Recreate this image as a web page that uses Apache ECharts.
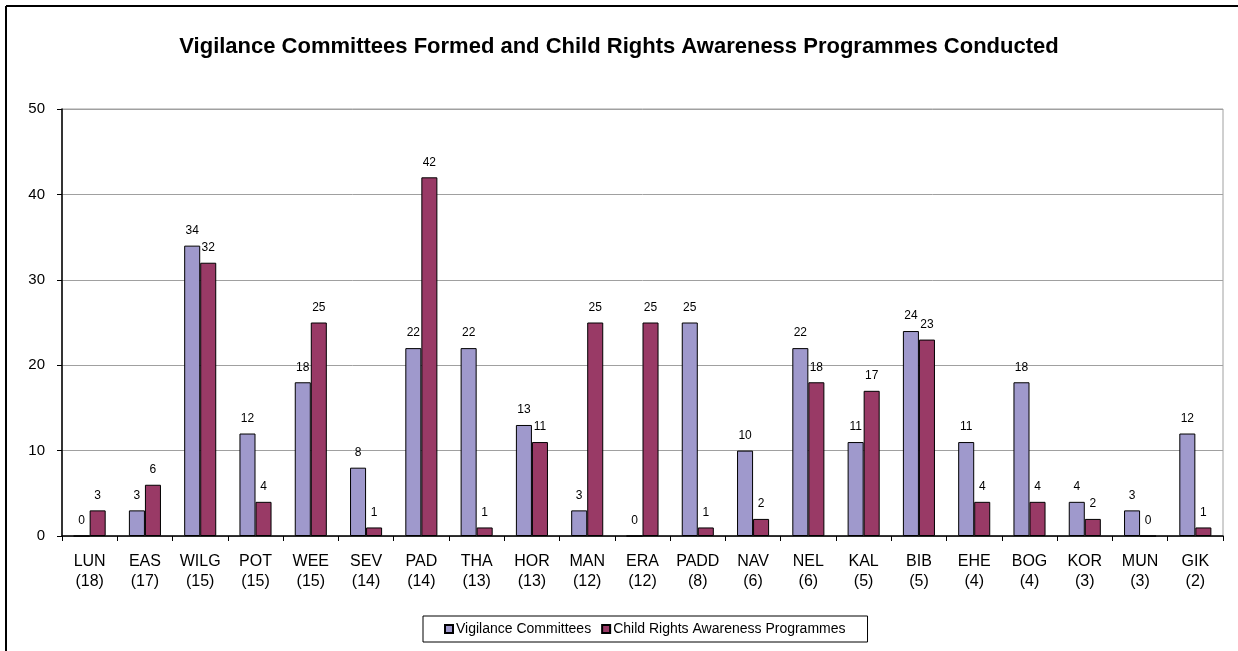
<!DOCTYPE html>
<html>
<head>
<meta charset="utf-8">
<script src="https://cdn.jsdelivr.net/npm/echarts@6/dist/echarts.min.js"></script>
<style>
  html, body { margin: 0; padding: 0; background: #fff; }
  #chart { width: 1238px; height: 651px; }
</style>
</head>
<body>
<div id="chart"></div>
<script>
  // districts and the number in brackets under each
  var districts = ['LUN', 'EAS', 'WILG', 'POT', 'WEE', 'SEV', 'PAD', 'THA', 'HOR', 'MAN', 'ERA',
                   'PADD', 'NAV', 'NEL', 'KAL', 'BIB', 'EHE', 'BOG', 'KOR', 'MUN', 'GIK'];
  var counts = [18, 17, 15, 15, 15, 14, 14, 13, 13, 12, 12, 8, 6, 6, 5, 5, 4, 4, 3, 3, 2];

  var vigilance = [0, 3, 34, 12, 18, 8, 22, 22, 13, 3, 0, 25, 10, 22, 11, 24, 11, 18, 4, 3, 12];
  var awareness = [3, 6, 32, 4, 25, 1, 42, 1, 11, 25, 25, 1, 2, 18, 17, 23, 4, 4, 2, 0, 1];

  var yTicks = [0, 10, 20, 30, 40, 50];

  var categories = districts.map(function (d, i) { return d + '\n(' + counts[i] + ')'; });

  var font = 'Arial, "Liberation Sans", sans-serif';

  var myChart = echarts.init(document.getElementById('chart'));
  myChart.setOption({
    animation: false,
    textStyle: { fontFamily: font, color: '#000' },
    title: {
      text: 'Vigilance Committees Formed and Child Rights Awareness Programmes Conducted',
      left: 'center',
      top: 31,
      textStyle: { fontFamily: font, fontSize: 22, fontWeight: 'bold', color: '#000' }
    },
    graphic: [
      { type: 'line', shape: { x1: 6, y1: 6, x2: 1238, y2: 6 }, style: { stroke: '#000', lineWidth: 2 } },
      { type: 'line', shape: { x1: 6, y1: 6, x2: 6, y2: 651 }, style: { stroke: '#000', lineWidth: 2 } }
    ],
    legend: {
      data: ['Vigilance Committees', 'Child Rights Awareness Programmes'],
      left: 423,
      top: 616,
      icon: 'rect',
      itemWidth: 8,
      itemHeight: 8,
      itemGap: 10,
      padding: [6, 22, 6, 21],
      borderColor: '#000',
      borderWidth: 1,
      textStyle: { fontFamily: font, fontSize: 14, color: '#000', padding: [0, 0, 0, -2] }
    },
    grid: {
      left: 62,
      right: 15,
      top: 109,
      bottom: 115,
      show: true,
      borderColor: '#a0a0a0',
      borderWidth: 1
    },
    xAxis: {
      type: 'category',
      data: categories,
      axisLine: { lineStyle: { color: '#000', width: 1.5 } },
      axisTick: { show: true, alignWithLabel: false, length: 5, lineStyle: { color: '#000' } },
      axisLabel: { fontFamily: font, fontSize: 16, lineHeight: 20, color: '#000', margin: 16, interval: 0 }
    },
    yAxis: {
      type: 'value',
      min: yTicks[0],
      max: yTicks[yTicks.length - 1],
      interval: 10,
      axisLine: { show: true, lineStyle: { color: '#000', width: 1.5 } },
      axisTick: { show: true, length: 5, lineStyle: { color: '#000' } },
      axisLabel: { fontFamily: font, fontSize: 15, color: '#000', margin: 17 },
      splitLine: { lineStyle: { color: '#a0a0a0', width: 1 } }
    },
    series: [
      {
        name: 'Vigilance Committees',
        type: 'bar',
        data: vigilance,
        barGap: '0%',
        barCategoryGap: '42%',
        itemStyle: { color: '#9f99cc', borderColor: '#000', borderWidth: 1 },
        label: { show: true, position: 'top', distance: 9, fontFamily: font, fontSize: 12, color: '#000' }
      },
      {
        name: 'Child Rights Awareness Programmes',
        type: 'bar',
        data: awareness,
        itemStyle: { color: '#993a66', borderColor: '#000', borderWidth: 1 },
        label: { show: true, position: 'top', distance: 9, fontFamily: font, fontSize: 12, color: '#000' }
      }
    ]
  });
</script>
</body>
</html>
